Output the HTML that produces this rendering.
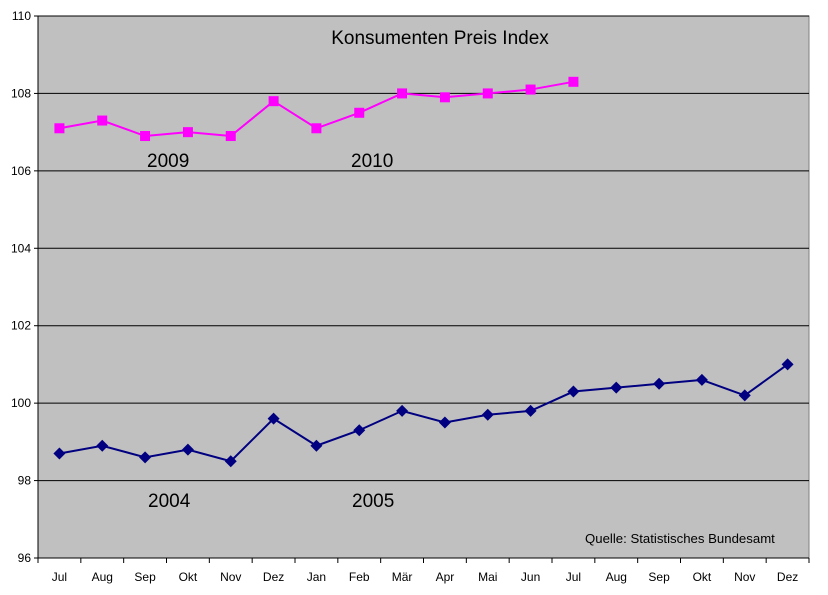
<!DOCTYPE html>
<html><head><meta charset="utf-8"><style>
body{margin:0;background:#fff;}
svg{display:block;font-family:"Liberation Sans",sans-serif;}
</style></head><body>
<svg id="chart" width="828" height="595"></svg>
<script>
const months=["Jul","Aug","Sep","Okt","Nov","Dez","Jan","Feb","Mär","Apr","Mai","Jun","Jul","Aug","Sep","Okt","Nov","Dez"];
const series2009=[107.1,107.3,106.9,107.0,106.9,107.8,107.1,107.5,108.0,107.9,108.0,108.1,108.3];
const series2004=[98.7,98.9,98.6,98.8,98.5,99.6,98.9,99.3,99.8,99.5,99.7,99.8,100.3,100.4,100.5,100.6,100.2,101.0];
const yTicks=[96,98,100,102,104,106,108,110];
const L=38,R=809,T=16,B=558;
const NS="http://www.w3.org/2000/svg";
const svg=document.getElementById('chart');
const bw=(R-L)/months.length;
function x(i){return L+bw*(i+0.5);}
function y(v){return B-(v-96)/(110-96)*(B-T);}
function mk(t,a,p){const e=document.createElementNS(NS,t);for(const k in a)e.setAttribute(k,a[k]);(p||svg).appendChild(e);return e;}
const bg=mk('rect',{x:L,y:T,width:R-L,height:B-T,fill:'#c0c0c0',stroke:'#808080'});


yTicks.forEach(v=>{
  const g=mk('line',{x1:L,x2:R,y1:y(v),y2:y(v),stroke:'#000','stroke-width':1});
  
  
  mk('line',{x1:L-4,x2:L,y1:y(v),y2:y(v),stroke:'#000'});
  const t=mk('text',{x:L-7,y:y(v)+4,'text-anchor':'end','font-size':12,fill:'#000'});
  t.textContent=v;
  
  
});
mk('line',{x1:L,x2:L,y1:T,y2:B,stroke:'#000'});
mk('line',{x1:L,x2:R,y1:B,y2:B,stroke:'#000'});
months.forEach((m,i)=>{
  mk('line',{x1:L+bw*i,x2:L+bw*i,y1:B,y2:B+5,stroke:'#000'});
  const t=mk('text',{x:x(i),y:B+23,'text-anchor':'middle','font-size':12,fill:'#000'});
  t.textContent=m;
  
  
});
mk('line',{x1:R,x2:R,y1:B,y2:B+5,stroke:'#000'});
function drawSeries(vals,color,shape,name){
  const pl=mk('polyline',{points:vals.map((v,i)=>x(i)+','+y(v)).join(' '),fill:'none',stroke:color,'stroke-width':2});
  
  
  vals.forEach((v,i)=>{
    let e;
    if(shape==='sq') e=mk('rect',{x:x(i)-5,y:y(v)-5,width:10,height:10,fill:color});
    else e=mk('polygon',{points:`${x(i)},${y(v)-6} ${x(i)+6},${y(v)} ${x(i)},${y(v)+6} ${x(i)-6},${y(v)}`,fill:color});
    
    
  });
}
drawSeries(series2009,'#ff00ff','sq','series-2009');
drawSeries(series2004,'#000080','dia','series-2004');
function label(txt,xx,yy,size,name,anchor){
  const t=mk('text',{x:xx,y:yy,'font-size':size,fill:'#000','text-anchor':anchor||'start'});
  t.textContent=txt;
  
  
}
label('Konsumenten Preis Index',440,44,19,'chart-title','middle');
label('2009',147,167,19,'label-2009');
label('2010',351,167,19,'label-2010');
label('2004',148,507,19,'label-2004');
label('2005',352,507,19,'label-2005');
label('Quelle: Statistisches Bundesamt',585,543,13.2,'source-note');
</script>
</body></html>
